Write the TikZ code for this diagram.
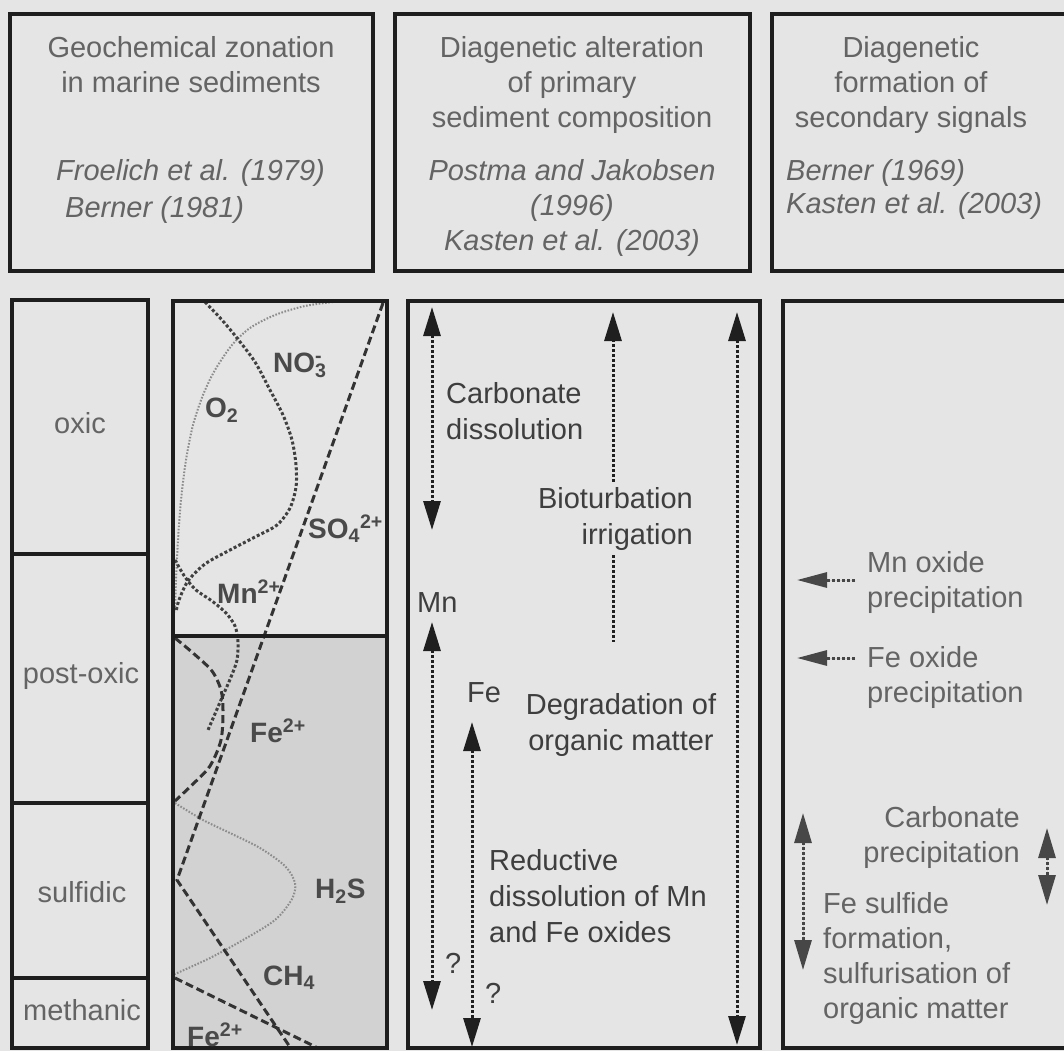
\documentclass[tikz,border=0pt]{standalone}
\usepackage{fontspec}
\setmainfont{Liberation Sans}
\usetikzlibrary{arrows.meta,positioning}

\definecolor{paper}{HTML}{E5E5E5}
\definecolor{deepshade}{HTML}{D2D2D2}
\definecolor{framegray}{HTML}{1E1E1E}
\definecolor{headgray}{HTML}{646464}
\definecolor{procgray}{HTML}{3E3E3E}
\definecolor{specgray}{HTML}{4A4A4A}

\begin{document}
\begin{tikzpicture}[
    x=1pt, y=-1pt,
    font=\fontsize{29}{35}\selectfont,
    frame/.style       = {draw=framegray, line width=4pt},
    divider/.style     = {draw=framegray, line width=3.5pt},
    head-lbl/.style    = {text=headgray, align=center, inner sep=0pt},
    ref-lbl/.style     = {text=headgray, font=\fontsize{29}{35}\selectfont\itshape, inner sep=0pt},
    zone-lbl/.style    = {text=headgray, inner sep=0pt},
    species-lbl/.style = {text=specgray, font=\fontsize{28}{30}\selectfont\bfseries, inner sep=0pt},
    proc-lbl/.style    = {text=procgray, font=\fontsize{29}{36}\selectfont, inner sep=0pt},
    signal-lbl/.style  = {text=headgray, inner sep=0pt},
    curve-dot/.style   = {draw=black!75, line width=3pt, dash pattern=on 3pt off 2.2pt},
    curve-thin/.style  = {draw=black!45, line width=2pt, dash pattern=on 1.6pt off 1.6pt},
    curve-dash/.style  = {draw=black!80, line width=3pt, dash pattern=on 8pt off 4pt},
    proc-line/.style   = {draw=black!88, line width=3pt, dash pattern=on 3pt off 2pt},
    proc-both/.style   = {proc-line, {Triangle[length=29pt,width=17pt]}-{Triangle[length=29pt,width=17pt]}},
    proc-up/.style     = {proc-line, -{Triangle[length=29pt,width=17pt]}},
    sig-line/.style    = {draw=black!72, fill=black!72, line width=3pt, dash pattern=on 3pt off 2pt},
    sig-left/.style    = {sig-line, -{Triangle[length=30pt,width=15pt]}},
    sig-both/.style    = {sig-line, {Triangle[length=30pt,width=17pt]}-{Triangle[length=30pt,width=17pt]}}
  ]

% background and page frame
\fill[paper] (0,0) rectangle (1064,1051);
\useasboundingbox (0,0) rectangle (1064,1051);

% =========================================================
% Header boxes (multi-line nodes sit on their last baseline)
% =========================================================
\draw[frame] (10,14) rectangle (373,271);
\draw[frame] (395,14) rectangle (750,271);
\draw[frame] (772,14) rectangle (1072,271);

\node[head-lbl, anchor=base] (zonT) at (191,93) {Geochemical zonation\\in marine sediments};
\node[ref-lbl, anchor=base west] (zonR1) at (56,180) {Froelich et al. (1979)};
\node[ref-lbl, anchor=base west] (zonR2) at (65,217) {Berner (1981)};

\node[head-lbl, anchor=base] (altT) at (572,128) {Diagenetic alteration\\of primary\\sediment composition};
\node[head-lbl, font=\fontsize{29}{35}\selectfont\itshape, anchor=base] (altR) at (572,250)
  {Postma and Jakobsen\\(1996)\\Kasten et al. (2003)};

\node[head-lbl, anchor=base] (sigT) at (911,128) {Diagenetic\\formation of\\secondary signals};
\node[ref-lbl, align=left, font=\fontsize{29}{33}\selectfont\itshape, anchor=base west] (sigR) at (786,213)
  {Berner (1969)\\Kasten et al. (2003)};

% =========================================================
% Column 1 -- redox zones
% =========================================================
\draw[frame] (12,300) rectangle (148,1048);
\draw[divider] (12,554) -- (148,554);
\draw[divider] (12,803) -- (148,803);
\draw[divider] (12,978) -- (148,978);

\node[zone-lbl, anchor=base] (oxic)  at (80,433)  {oxic};
\node[zone-lbl, anchor=base] (post)  at (81,683)  {post-oxic};
\node[zone-lbl, anchor=base] (sulf)  at (82,902)  {sulfidic};
\node[zone-lbl, anchor=base] (meth)  at (82,1020) {methanic};

% =========================================================
% Column 2 -- pore-water profiles
% =========================================================
\fill[deepshade] (173,636) rectangle (387,1048);

\begin{scope}
  \clip (173,301) rectangle (387,1048);
  % O2 and H2S (fine dots)
  \draw[curve-thin] plot[smooth] coordinates {(333,302) (305,306) (275,315) (250,328) (232,345)
    (215,370) (203,395) (193,425) (186,460) (181,500) (178,540) (176,580) (175,612)};
  \draw[curve-thin] plot[smooth] coordinates {(175,803) (203,820) (230,833) (260,848) (285,866)
    (295,883) (292,899) (275,920) (243,940) (210,958) (175,974)};
  % NO3 and Mn (coarse dots)
  \draw[curve-dot] plot[smooth] coordinates {(205,302) (222,320) (237,338) (255,362) (270,390)
    (283,415) (292,440) (296,465) (296,487) (290,508) (277,525) (255,537) (230,550) (205,564)
    (188,581) (179,600) (176,612)};
  \draw[curve-dot] plot[smooth] coordinates {(175,560) (185,577) (196,590) (212,601) (226,613)
    (235,626) (238,642) (237,660) (231,677) (221,700) (208,730)};
  % SO4, Fe, CH4 (dashes)
  \draw[curve-dash] (383,303) -- (177,880) -- (292,1050);
  \draw[curve-dash] plot[smooth] coordinates {(175,638) (193,653) (212,671) (221,690) (223,710)
    (221,740) (210,766) (193,784) (175,801)};
  \draw[curve-dash] (175,978) -- (322,1050);
\end{scope}

\draw[frame] (173,301) rectangle (387,1048);
\draw[divider] (173,636) -- (387,636);

\node[species-lbl, anchor=base west] (no3) at (273,372) {NO\rlap{\textsuperscript{-}}\textsubscript{3}};
\node[species-lbl, anchor=base west] (o2)  at (205,417) {O\textsubscript{2}};
\node[species-lbl, anchor=base west] (so4) at (308,538) {SO\textsubscript{4}\textsuperscript{2+}};
\node[species-lbl, anchor=base west] (mn)  at (217,603) {Mn\textsuperscript{2+}};
\node[species-lbl, anchor=base west] (fe)  at (250,742) {Fe\textsuperscript{2+}};
\node[species-lbl, anchor=base west] (h2s) at (315,898) {H\textsubscript{2}S};
\node[species-lbl, anchor=base west] (ch4) at (263,985) {CH\textsubscript{4}};
\node[species-lbl, anchor=base west] (fe2) at (187,1046) {Fe\textsuperscript{2+}};

% =========================================================
% Column 3 -- alteration of primary composition
% =========================================================
\draw[frame] (408,301) rectangle (760,1048);

\node[proc-lbl, align=left, anchor=base west] (carb) at (446,439) {Carbonate\\dissolution};
\node[proc-lbl, align=right, anchor=base east, inner sep=5pt] (bio) at (698,544) {Bioturbation\\irrigation};
\node[proc-lbl, anchor=base west] (mnlbl) at (417,612) {Mn};
\node[proc-lbl, anchor=base west] (felbl) at (467,702) {Fe};
\node[proc-lbl, align=center, anchor=base] (degr) at (621,750) {Degradation of\\organic matter};
\node[proc-lbl, align=left, anchor=base west] (redu) at (489,942) {Reductive\\dissolution of Mn\\and Fe oxides};
\node[proc-lbl, anchor=base west] (mnq) at (445,973) {?};
\node[proc-lbl, anchor=base west] (feq) at (485,1003) {?};

\coordinate (carbTop) at (432,307);
\coordinate (carbBot) at (432,530);
\coordinate (bioTop)  at (613,312);
\coordinate (bioBot)  at (613,642);
\coordinate (degrTop) at (737,312);
\coordinate (degrBot) at (737,1045);
\coordinate (mnTop)   at (432,622);
\coordinate (mnBot)   at (432,1010);
\coordinate (feTop)   at (472,722);
\coordinate (feBot)   at (472,1047);

\draw[proc-both] (carbTop) -- (carbBot);
\draw[proc-up]   (bio.north -| bioTop) -- (bioTop);
\draw[proc-line] (bio.south -| bioBot) -- (bioBot);
\draw[proc-both] (degrTop) -- (degrBot);
\draw[proc-both] (mnTop) -- (mnBot);
\draw[proc-both] (feTop) -- (feBot);

% =========================================================
% Column 4 -- secondary signals
% =========================================================
\draw[frame] (783,301) rectangle (1072,1048);

\node[signal-lbl, align=left, anchor=base west] (mnox) at (867,607) {Mn oxide\\precipitation};
\node[signal-lbl, align=left, anchor=base west] (feox) at (867,702) {Fe oxide\\precipitation};
\node[signal-lbl, align=right, anchor=base east] (carbp) at (1020,862) {Carbonate\\precipitation};
\node[signal-lbl, align=left, anchor=base west] (fes) at (823,1018)
  {Fe sulfide\\formation,\\sulfurisation of\\organic matter};

\coordinate (mnoxTail) at (855,580);
\coordinate (mnoxTip)  at (797,580);
\coordinate (feoxTail) at (855,658);
\coordinate (feoxTip)  at (797,658);
\coordinate (carbpTop) at (1047,828);
\coordinate (carbpBot) at (1047,905);
\coordinate (fesTop)   at (803,813);
\coordinate (fesBot)   at (803,970);

\draw[sig-left] (mnoxTail) -- (mnoxTip);
\draw[sig-left] (feoxTail) -- (feoxTip);
\draw[sig-both] (carbpTop) -- (carbpBot);
\draw[sig-both] (fesTop) -- (fesBot);

\end{tikzpicture}
\end{document}
